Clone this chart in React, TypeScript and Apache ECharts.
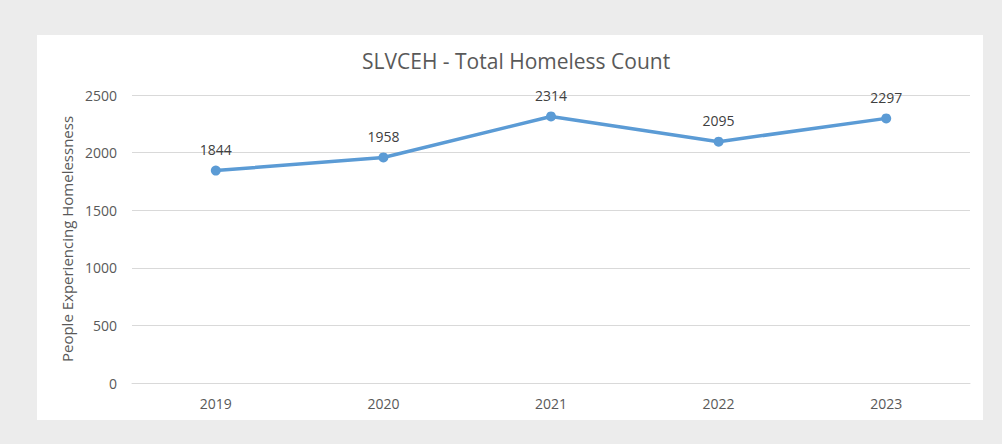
import React, { useEffect, useRef } from "react";
import * as echarts from "echarts";

const years = ["2019", "2020", "2021", "2022", "2023"];
const counts = [1844, 1958, 2314, 2095, 2297];
const titleText = "SLVCEH - Total Homeless Count";
const yAxisName = "People Experiencing Homelessness";

export default function App() {
  const ref = useRef<HTMLDivElement>(null);
  useEffect(() => {
    if (!ref.current) return;
    const chart = echarts.init(ref.current, undefined, { renderer: "svg" });
    const font = "'Open Sans', sans-serif";
    chart.setOption({
      animation: false,
      backgroundColor: "#ececec",
      graphic: [
        {
          type: "rect",
          z: -10,
          shape: { x: 37, y: 35, width: 946, height: 385 },
          style: { fill: "#ffffff" },
          silent: true,
        },
      ],
      title: {
        text: titleText,
        left: 357,
        top: 45,
        textStyle: { fontFamily: font, fontSize: 21, fontWeight: "normal", color: "#595959" },
      },
      grid: { left: 132, right: 32, top: 95, bottom: 61 },
      xAxis: {
        type: "category",
        data: years,
        boundaryGap: true,
        axisLine: { show: true, lineStyle: { color: "#d9d9d9", width: 1 } },
        axisTick: { show: false },
        axisLabel: { color: "#595959", fontFamily: font, fontSize: 14, margin: 13 },
      },
      yAxis: {
        type: "value",
        min: 0,
        max: 2500,
        interval: 500,
        name: yAxisName,
        nameLocation: "middle",
        nameGap: 55,
        nameTextStyle: { color: "#595959", fontFamily: font, fontSize: 15 },
        axisLine: { show: false },
        axisTick: { show: false },
        axisLabel: {
          color: "#595959",
          fontFamily: font,
          fontSize: 14,
          margin: 15,
          formatter: (v: number) => String(v),
        },
        splitLine: { lineStyle: { color: "#d9d9d9", width: 1 } },
      },
      series: [
        {
          type: "line",
          data: counts,
          symbol: "circle",
          symbolSize: 10,
          lineStyle: { color: "#5b9bd5", width: 3.5 },
          itemStyle: { color: "#5b9bd5" },
          label: {
            show: true,
            position: "top",
            distance: 9,
            color: "#404040",
            fontFamily: font,
            fontSize: 14,
          },
        },
      ],
    });
    return () => chart.dispose();
  }, []);
  return (
    <div
      ref={ref}
      style={{ position: "fixed", left: 0, top: 0, width: 1002, height: 444 }}
    />
  );
}
